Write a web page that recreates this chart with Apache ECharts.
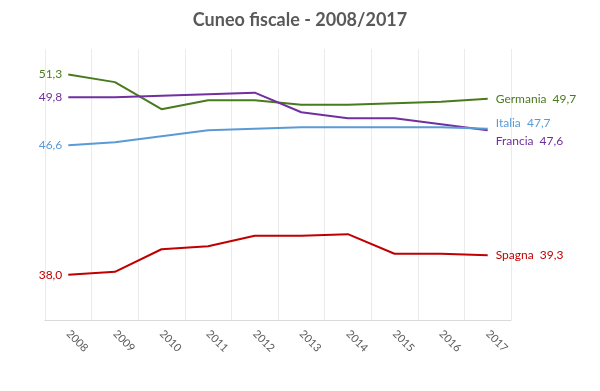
<!DOCTYPE html>
<html>
<head>
<meta charset="utf-8">
<script src="https://cdn.jsdelivr.net/npm/echarts@6/dist/echarts.min.js"></script>
<style>html,body{margin:0;padding:0;background:#fff}#c{width:600px;height:391px}</style>
</head>
<body>
<div id="c"></div>
<script>
var years = ['2008','2009','2010','2011','2012','2013','2014','2015','2016','2017'];
var germania = [51.3, 50.8, 49.0, 49.6, 49.6, 49.3, 49.3, 49.4, 49.5, 49.7];
var francia  = [49.8, 49.8, 49.9, 50.0, 50.1, 48.8, 48.4, 48.4, 48.0, 47.6];
var italia   = [46.6, 46.8, 47.2, 47.6, 47.7, 47.8, 47.8, 47.8, 47.8, 47.7];
var spagna   = [38.0, 38.2, 39.7, 39.9, 40.6, 40.6, 40.7, 39.4, 39.4, 39.3];

var FONT = 'Lato';
function fmt(v){ return v.toFixed(1).replace('.', ','); }

function mk(name, data, color, endOffset){
  return {
    name: name, type: 'line', data: data, symbol: 'circle', symbolSize: 0, showSymbol: true,
    lineStyle: {color: color, width: 2},
    itemStyle: {color: color},
    label: {show: true, position: 'left', distance: 6, color: color, fontFamily: FONT, fontSize: 12,
      formatter: function(p){ return p.dataIndex === 0 ? fmt(p.value) : ''; }},
    endLabel: {show: true, distance: 8, color: color, fontFamily: FONT, fontSize: 12, offset: endOffset,
      formatter: function(p){ return p.seriesName + '  ' + fmt(p.value); }}
  };
}

var chart = echarts.init(document.getElementById('c'));
chart.setOption({
  animation: false,
  title: {text: 'Cuneo fiscale - 2008/2017', left: 'center', top: 6,
    textStyle: {fontFamily: FONT, fontSize: 18, fontWeight: 'bold', color: '#595959'}},
  grid: {left: 45, right: 89, top: 49, bottom: 71},
  xAxis: {type: 'category', data: years, boundaryGap: true,
    axisLine: {lineStyle: {color: '#d9d9d9'}},
    axisTick: {show: false},
    splitLine: {show: true, lineStyle: {color: '#ebebeb'}},
    axisLabel: {rotate: -45, margin: 12, color: '#595959', fontFamily: FONT, fontSize: 11}},
  yAxis: {type: 'value', min: 35, max: 53, show: false, splitLine: {show: false}},
  series: [
    mk('Germania', germania, '#4a7a1e', [0, 0]),
    mk('Francia', francia, '#7030a0', [0, 11]),
    mk('Italia', italia, '#5b9bd5', [0, -6]),
    mk('Spagna', spagna, '#c00000', [0, 0])
  ]
});
</script>
</body>
</html>
